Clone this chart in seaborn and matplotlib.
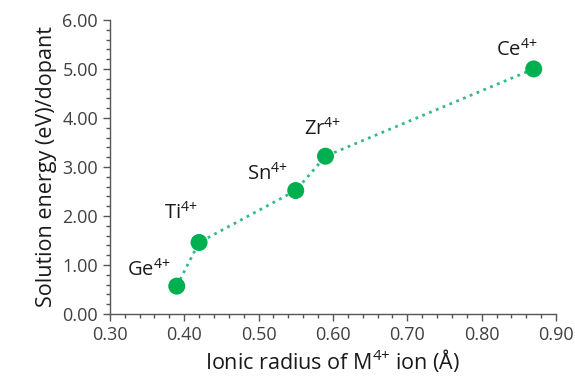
import matplotlib
matplotlib.use('Agg')
from matplotlib import pyplot as plt
from matplotlib.ticker import MultipleLocator, FormatStrFormatter
import seaborn as sns
import pandas as pd

ions = ['Ge', 'Ti', 'Sn', 'Zr', 'Ce']
radius = [0.39, 0.42, 0.55, 0.59, 0.87]
energy = [0.57, 1.46, 2.52, 3.22, 5.00]
# label offsets in points (x, y)
offsets = [(-20, 12), (-13, 21), (-20, 12), (-2, 20), (-12, 14)]

df = pd.DataFrame({'ion': ions, 'radius': radius, 'energy': energy})

sns.set_style('white')
plt.rcParams['font.family'] = ['Open Sans', 'DejaVu Sans']
plt.rcParams['mathtext.default'] = 'regular'

fig = plt.figure(figsize=(5.75, 3.83), dpi=100)
ax = fig.add_axes([0.191, 0.18, 0.776, 0.768])

sns.lineplot(data=df, x='radius', y='energy', ax=ax, color='#33b890',
             linestyle=':', linewidth=2, sort=False)
sns.scatterplot(data=df, x='radius', y='energy', ax=ax, color='#00b050',
                s=150, edgecolor='none', zorder=3)

for ion, x, y, off in zip(ions, radius, energy, offsets):
    ax.annotate(ion + '$^{4{+}}$', (x, y), xytext=off, textcoords='offset points',
                ha='center', va='center', fontsize=14.5, color='#1a1a1a')

ax.set_xlim(0.30, 0.90)
ax.set_ylim(0, 6)
ax.xaxis.set_major_locator(MultipleLocator(0.1))
ax.xaxis.set_minor_locator(MultipleLocator(0.02))
ax.yaxis.set_major_locator(MultipleLocator(1))
ax.yaxis.set_minor_locator(MultipleLocator(0.2))
ax.xaxis.set_major_formatter(FormatStrFormatter('%.2f'))
ax.yaxis.set_major_formatter(FormatStrFormatter('%.2f'))
ax.tick_params(axis='both', which='major', direction='out', length=5,
               width=1, color='#555555', labelsize=13, labelcolor='#404040')
ax.tick_params(axis='both', which='minor', direction='out', length=3,
               width=1, color='#555555')
ax.tick_params(bottom=True, left=True, which='both')

sns.despine(ax=ax)
for s in ['left', 'bottom']:
    ax.spines[s].set_color('#555555')
    ax.spines[s].set_linewidth(1)

ax.set_xlabel('Ionic radius of M$^{4{+}}$ ion (Å)', fontsize=15.5, color='#1a1a1a',
              labelpad=2)
ax.set_ylabel('Solution energy (eV)/dopant', fontsize=15.5, color='#1a1a1a',
              labelpad=4)

fig.savefig('out.png', dpi=100)
